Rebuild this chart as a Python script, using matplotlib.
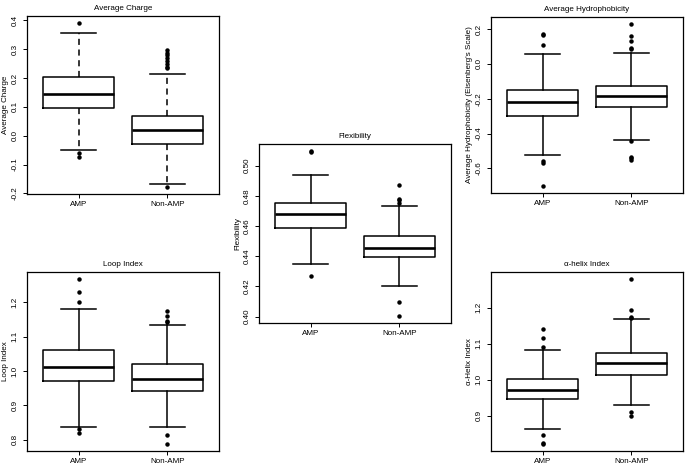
import matplotlib.pyplot as plt

plt.rcParams['font.family'] = ['Liberation Sans', 'DejaVu Sans']

groups = ["AMP", "Non-AMP"]

# whisker low, Q1, median, Q3, whisker high
charge_amp = [-0.048, 0.097, 0.146, 0.204, 0.357]
charge_non = [-0.167, -0.030, 0.019, 0.067, 0.213]
charge_amp_out = [0.392, -0.061, -0.072]
charge_non_out = [0.296, 0.287, 0.278, 0.268, 0.258, 0.247, 0.238, 0.234, -0.179]

hydro_amp = [-0.523, -0.298, -0.217, -0.149, 0.057]
hydro_non = [-0.436, -0.249, -0.185, -0.126, 0.062]
hydro_amp_out = [0.170, 0.164, 0.106, -0.555, -0.568, -0.704]
hydro_non_out = [0.232, 0.162, 0.134, 0.090, 0.083, -0.445, -0.535, -0.543, -0.552]

flex_amp = [0.4351, 0.4589, 0.4680, 0.4756, 0.4938]
flex_non = [0.4200, 0.4396, 0.4458, 0.4533, 0.4736]
flex_amp_out = [0.5100, 0.5089, 0.4271]
flex_non_out = [0.4869, 0.4782, 0.4770, 0.4756, 0.4096, 0.4002]

loop_amp = [0.837, 0.972, 1.011, 1.062, 1.181]
loop_non = [0.836, 0.941, 0.978, 1.019, 1.134]
loop_amp_out = [1.268, 1.230, 1.200, 0.832, 0.820]
loop_non_out = [1.175, 1.160, 1.144, 1.141, 0.813, 0.787]

helix_amp = [0.863, 0.946, 0.973, 1.003, 1.083]
helix_non = [0.929, 1.014, 1.047, 1.075, 1.169]
helix_amp_out = [1.140, 1.116, 1.090, 0.848, 0.824, 0.821]
helix_non_out = [1.281, 1.193, 1.174, 1.171, 0.910, 0.899]

charge_ticks = [-0.2, -0.1, 0.0, 0.1, 0.2, 0.3, 0.4]
charge_labels = ["-0.2", "-0.1", "0.0", "0.1", "0.2", "0.3", "0.4"]
hydro_ticks = [-0.6, -0.4, -0.2, 0.0, 0.2]
hydro_labels = ["-0.6", "-0.4", "-0.2", "0.0", "0.2"]
flex_ticks = [0.40, 0.42, 0.44, 0.46, 0.48, 0.50]
flex_labels = ["0.40", "0.42", "0.44", "0.46", "0.48", "0.50"]
loop_ticks = [0.8, 0.9, 1.0, 1.1, 1.2]
loop_labels = ["0.8", "0.9", "1.0", "1.1", "1.2"]
helix_ticks = [0.9, 1.0, 1.1, 1.2]
helix_labels = ["0.9", "1.0", "1.1", "1.2"]

W, H = 687, 465
fig = plt.figure(figsize=(W / 100, H / 100), dpi=100)
FS = 5.8


def stats(s, out):
    return {'whislo': s[0], 'q1': s[1], 'med': s[2], 'q3': s[3], 'whishi': s[4], 'fliers': out}


def panel(px, title, ylabel, amp, non, amp_out, non_out, ticks, labels, dashed=False):
    x0, y0, x1, y1 = px
    ax = fig.add_axes([x0 / W, 1 - y1 / H, (x1 - x0) / W, (y1 - y0) / H])
    ls = (0, (4, 3)) if dashed else '-'
    ax.bxp([stats(amp, amp_out), stats(non, non_out)], positions=[1, 2],
           widths=0.8, capwidths=0.4, manage_ticks=False,
           boxprops=dict(color='black', linewidth=1.1),
           whiskerprops=dict(color='black', linewidth=1.1, linestyle=ls),
           capprops=dict(color='black', linewidth=1.1),
           medianprops=dict(color='black', linewidth=1.9),
           flierprops=dict(marker='o', markersize=2.2, markerfacecolor='black',
                           markeredgecolor='black', linestyle='none'))
    allv = amp + non + amp_out + non_out
    lo, hi = min(allv), max(allv)
    r = hi - lo
    ax.set_ylim(lo - 0.04 * r, hi + 0.04 * r)
    ax.set_xlim(0.42, 2.58)
    ax.set_xticks([1, 2])
    ax.set_xticklabels(groups, fontsize=FS)
    ax.set_yticks(ticks)
    ax.set_yticklabels(labels, fontsize=FS, rotation=90, va='center')
    ax.tick_params(direction='out', length=3, width=0.7, pad=2, colors='black')
    ax.tick_params(axis='y', pad=3)
    ax.set_title(title, fontsize=FS, pad=4)
    ax.set_ylabel(ylabel, fontsize=FS)
    ax.yaxis.set_label_coords(-18 / (x1 - x0), 0.5)
    for s in ax.spines.values():
        s.set_linewidth(0.9)
    return ax


panel((27, 16, 219, 194), "Average Charge", "Average Charge",
      charge_amp, charge_non, charge_amp_out, charge_non_out,
      charge_ticks, charge_labels, dashed=True)
panel((491, 17, 683, 193), "Average Hydrophobicity", "Average Hydrophobicity (Eisenberg's Scale)",
      hydro_amp, hydro_non, hydro_amp_out, hydro_non_out, hydro_ticks, hydro_labels)
panel((259, 144, 451, 323), "Flexibility", "Flexibility",
      flex_amp, flex_non, flex_amp_out, flex_non_out, flex_ticks, flex_labels)
panel((27, 272, 219, 451), "Loop Index", "Loop Index",
      loop_amp, loop_non, loop_amp_out, loop_non_out, loop_ticks, loop_labels)
panel((491, 272, 683, 451), "α-helix Index", "α-Helix Index",
      helix_amp, helix_non, helix_amp_out, helix_non_out, helix_ticks, helix_labels)

fig.savefig("out.png", dpi=100)
